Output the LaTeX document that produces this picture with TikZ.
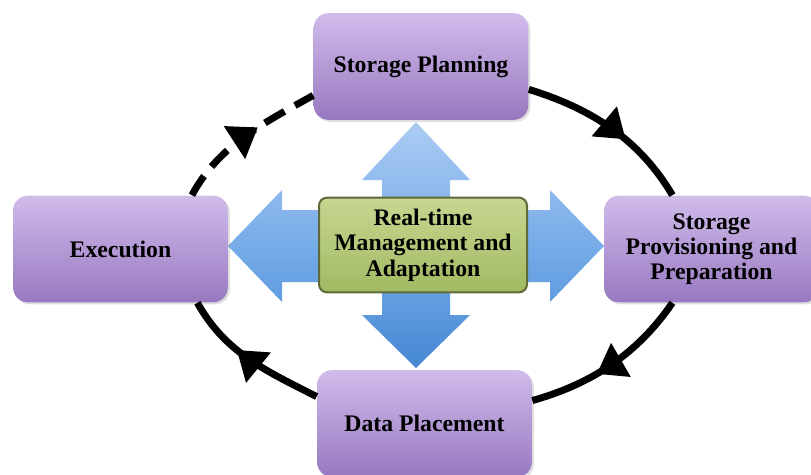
\documentclass[tikz,border=0pt]{standalone}
\usepackage{fontspec}
\setmainfont{Liberation Serif}
\usetikzlibrary{arrows.meta,decorations.markings,shadows}

\definecolor{phaseTop}{RGB}{208,188,235}
\definecolor{phaseBot}{RGB}{152,120,192}
\definecolor{adaptTop}{RGB}{198,215,145}
\definecolor{adaptBot}{RGB}{162,186,98}
\definecolor{adaptLine}{RGB}{95,105,58}
\definecolor{crossTop}{RGB}{172,203,243}
\definecolor{crossMid}{RGB}{118,172,232}
\definecolor{crossBot}{RGB}{70,136,212}

\tikzset{every picture/.style={line width=0.75pt}}
\tikzset{
	phasebox/.style={rounded corners=11pt, top color=phaseTop, bottom color=phaseBot, minimum width=161pt, minimum height=80pt, align=center, font=\fontsize{17.8}{19}\selectfont\bfseries, drop shadow={shadow xshift=1.5pt, shadow yshift=-1.5pt, opacity=0.25}},
	adaptbox/.style={rounded corners=6pt, draw=adaptLine, line width=1.5pt, top color=adaptTop, bottom color=adaptBot, minimum width=156pt, minimum height=71pt, align=center, font=\fontsize{17.8}{19}\selectfont\bfseries},
	cycleline/.style={line width=5.25pt, color=black},
	midhead/.style={postaction={decorate}, decoration={markings, mark=at position 0.6 with {\arrow{Triangle[length=21pt,width=28pt]}}}}
}

\begin{document}
\begin{tikzpicture}[x=0.75pt,y=0.75pt,yscale=-1,xscale=1]
	\useasboundingbox (0,0) rectangle (811,475);

	%four-way arrow behind the centre box
	\shade [top color=crossTop, bottom color=crossBot, middle color=crossMid] (416,122) -- (470,180) -- (450,180) -- (450,210) -- (550,210) -- (550,190) -- (604,246) -- (550,302) -- (550,282) -- (450,282) -- (450,315) -- (470,315) -- (416,368) -- (362,315) -- (382,315) -- (382,282) -- (282,282) -- (282,302) -- (228,246) -- (282,190) -- (282,210) -- (382,210) -- (382,180) -- (362,180) -- cycle;

	%phases
	\node (plan) at (421,66.5) [phasebox] {Storage Planning};
	\node (prov) at (711.5,249) [phasebox] {Storage\\Provisioning and\\Preparation};
	\node (place) at (424.5,423.5) [phasebox] {Data Placement};
	\node (exec) at (120.5,249) [phasebox] {Execution};
	\node (adapt) at (423,245) [adaptbox] {Real-time\\Management and\\Adaptation};

	%cycle
	\draw [cycleline, midhead] (plan.-12.3) .. controls +(62,19) and +(-33,-56) .. (prov.126.2);
	\draw [cycleline, midhead] (prov.-126.2) .. controls +(-35,51) and +(60,-17) .. (place.12.3);
	\draw [cycleline, midhead] (place.166.7) .. controls +(-51,-26) and +(28,50) .. (exec.-35.9);
	\draw [cycleline, midhead, dash pattern=on 17pt off 9pt] (exec.37.1) .. controls +(27,-50) and +(-50,28) .. (plan.195.8);

\end{tikzpicture}
\end{document}
